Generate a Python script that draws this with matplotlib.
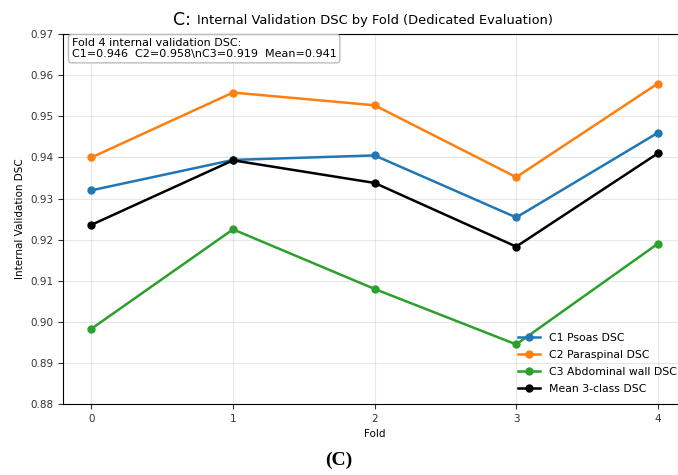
import matplotlib
matplotlib.use("Agg")
import matplotlib.pyplot as plt

folds = [0, 1, 2, 3, 4]
c1_psoas = [0.932, 0.9394, 0.9405, 0.9254, 0.946]
c2_paraspinal = [0.940, 0.9558, 0.9527, 0.9352, 0.958]
c3_abdominal = [0.8983, 0.9225, 0.908, 0.8945, 0.919]
mean_dsc = [0.9236, 0.9393, 0.9338, 0.9183, 0.941]

series = [
    (c1_psoas, "C1 Psoas DSC", "#1f77b4"),
    (c2_paraspinal, "C2 Paraspinal DSC", "#ff7f0e"),
    (c3_abdominal, "C3 Abdominal wall DSC", "#2ca02c"),
    (mean_dsc, "Mean 3-class DSC", "black"),
]

fig = plt.figure(figsize=(6.78, 4.75), dpi=100)
ax = fig.add_axes([0.093, 0.1495, 0.919, 0.7785])

for vals, label, color in series:
    ax.plot(folds, vals, marker="o", color=color, label=label, linewidth=1.8, markersize=5)

ax.set_xlim(-0.2, 4.2)
ax.set_ylim(0.88, 0.97)
ax.set_xticks(folds)
ax.set_yticks([0.88, 0.89, 0.90, 0.91, 0.92, 0.93, 0.94, 0.95, 0.96, 0.97])
ax.tick_params(labelsize=7.5, colors="#333333")
ax.grid(True, alpha=0.3)
ax.set_xlabel("Fold", fontsize=7.5)
ax.set_ylabel("Internal Validation DSC", fontsize=7.5)

title = ax.set_title("Internal Validation DSC by Fold (Dedicated Evaluation)", fontsize=9.4, pad=7)
ax.annotate("C:", xy=(0, 0), xycoords=title, ha="right", va="bottom", fontsize=12.5,
            xytext=(-4, -1), textcoords="offset points")

ax.text(0.014, 0.99, "Fold 4 internal validation DSC:\nC1=0.946  C2=0.958\\nC3=0.919  Mean=0.941",
        transform=ax.transAxes, ha="left", va="top", fontsize=8,
        bbox=dict(boxstyle="round,pad=0.3", facecolor="white", edgecolor="#bbbbbb"))

ax.legend(loc="lower right", fontsize=7.8, frameon=False,
          handlelength=2, labelspacing=0.66)

fig.text(0.5, 0.03, "(C)", ha="center", va="center", fontsize=14, fontweight="bold", family="Liberation Serif")

fig.savefig("out.png", dpi=100)
